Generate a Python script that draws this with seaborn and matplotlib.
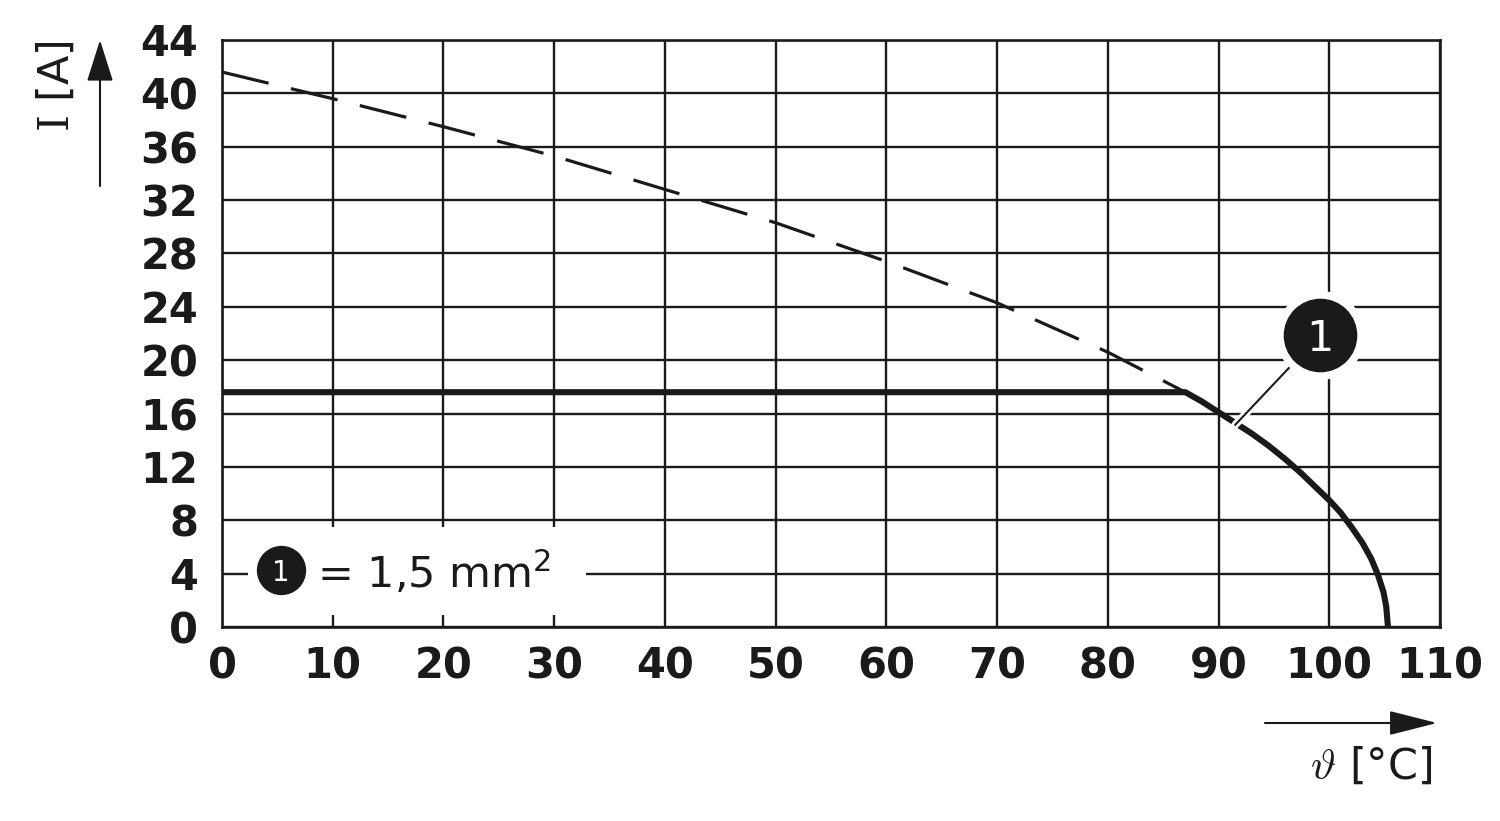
import numpy as np
import pandas as pd
import matplotlib
matplotlib.use("Agg")
import matplotlib.pyplot as plt
import matplotlib.patheffects as pe
from matplotlib.patches import Rectangle
import seaborn as sns

# ---- data ----
temp_dashed = [0, 10, 20, 30, 40, 50, 60, 70, 80, 87, 90]
current_dashed = [41.6, 39.6, 37.5, 35.3, 32.8, 30.3, 27.4, 24.3, 20.6, 17.6, 16.1]

temp_solid = [0, 87, 88.5, 90, 91.5, 93, 94.5, 96, 97.5, 99, 100, 101, 102, 103,
              103.8, 104.4, 104.9, 105.15, 105.3]
current_solid = [17.6, 17.6, 16.9, 16.1, 15.3, 14.5, 13.6, 12.6, 11.5, 10.3, 9.5, 8.6,
                 7.5, 6.3, 5.1, 3.9, 2.6, 1.5, 0.0]

x_ticks = [0, 10, 20, 30, 40, 50, 60, 70, 80, 90, 100, 110]
y_ticks = [0, 4, 8, 12, 16, 20, 24, 28, 32, 36, 40, 44]

legend_label = "= 1,5 mm$^{2}$"
callout_label = "1"
y_label = "$\\mathrm{I}$ [A]"
x_label = "$\\vartheta$ [°C]"

df_dash = pd.DataFrame({"temp": temp_dashed, "current": current_dashed})
df_solid = pd.DataFrame({"temp": temp_solid, "current": current_solid})

sns.set_style("white")
plt.rcParams["font.family"] = ["DejaVu Sans"]

W, H = 1500, 821
fig = plt.figure(figsize=(W / 100, H / 100), dpi=100)
ax = fig.add_axes([222 / W, 1 - 627 / H, (1440 - 222) / W, (627 - 40) / H])

ink = "#1a1a1a"

sns.lineplot(data=df_dash, x="temp", y="current", ax=ax, sort=False, estimator=None,
             color=ink, lw=2.3, zorder=3)
ax.lines[-1].set_dashes((15, 7.2))
sns.lineplot(data=df_solid, x="temp", y="current", ax=ax, sort=False, estimator=None,
             color=ink, lw=4.4, zorder=4)
ax.lines[-1].set_solid_joinstyle("round")

ax.set_xlim(0, 110)
ax.set_ylim(0, 44)
ax.set_xticks(x_ticks)
ax.set_yticks(y_ticks)
ax.set_xticklabels([str(v) for v in x_ticks])
ax.set_yticklabels([str(v) for v in y_ticks])
ax.tick_params(axis="both", length=0, labelsize=30, labelcolor=ink)
ax.tick_params(axis="y", pad=17)
ax.tick_params(axis="x", pad=13)
for lab in ax.get_xticklabels() + ax.get_yticklabels():
    lab.set_fontweight("bold")
ax.set_xlabel("")
ax.set_ylabel("")
ax.grid(True, color=ink, lw=1.7, zorder=1)
ax.set_axisbelow(True)
for s in ax.spines.values():
    s.set_color(ink)
    s.set_linewidth(1.9)

# legend box (white area over the grid)
ax.add_patch(Rectangle((2.35, 0.9), 30.5, 6.6, facecolor="white", edgecolor="none", zorder=2))
ax.plot([5.33], [4.27], marker="o", markersize=34.5, color=ink, zorder=5, clip_on=False)
ax.text(5.33, 4.27, callout_label, color="white", fontsize=20, ha="center", va="center_baseline", zorder=6)
ax.text(8.6, 4.0, legend_label, color=ink, fontsize=31, ha="left", va="center", zorder=6)

# callout
ax.plot([91.5, 96.45], [15.15, 19.5], color=ink, lw=1.5, zorder=7,
        path_effects=[pe.Stroke(linewidth=5.5, foreground="white"), pe.Normal()])
ax.plot([99.16], [21.9], marker="o", markersize=63, color="white", zorder=8, clip_on=False)
ax.plot([99.16], [21.9], marker="o", markersize=52, color=ink, zorder=9, clip_on=False)
ax.text(99.16, 21.9, callout_label, color="white", fontsize=31, ha="center", va="center_baseline", zorder=10)

# axis labels and arrows
fig.text(57 / W, 1 - 86 / H, y_label, rotation=90, ha="center", va="center", fontsize=31,
         color=ink, math_fontfamily="dejavuserif")
fig.text(1371 / W, 1 - 767 / H, x_label, ha="center", va="center", fontsize=31,
         color=ink, math_fontfamily="cm")

ax.annotate("", xy=(100 / W, 1 - 40 / H), xytext=(100 / W, 1 - 186 / H),
            xycoords="figure fraction", textcoords="figure fraction",
            arrowprops=dict(arrowstyle="-|>,head_length=26,head_width=8.2", mutation_scale=1,
                            color=ink, lw=1.5, shrinkA=0, shrinkB=0))
ax.annotate("", xy=(1437 / W, 1 - 723 / H), xytext=(1265 / W, 1 - 723 / H),
            xycoords="figure fraction", textcoords="figure fraction",
            arrowprops=dict(arrowstyle="-|>,head_length=30,head_width=7.6", mutation_scale=1,
                            color=ink, lw=1.5, shrinkA=0, shrinkB=0))

fig.savefig("out.png", dpi=100, facecolor="white")
